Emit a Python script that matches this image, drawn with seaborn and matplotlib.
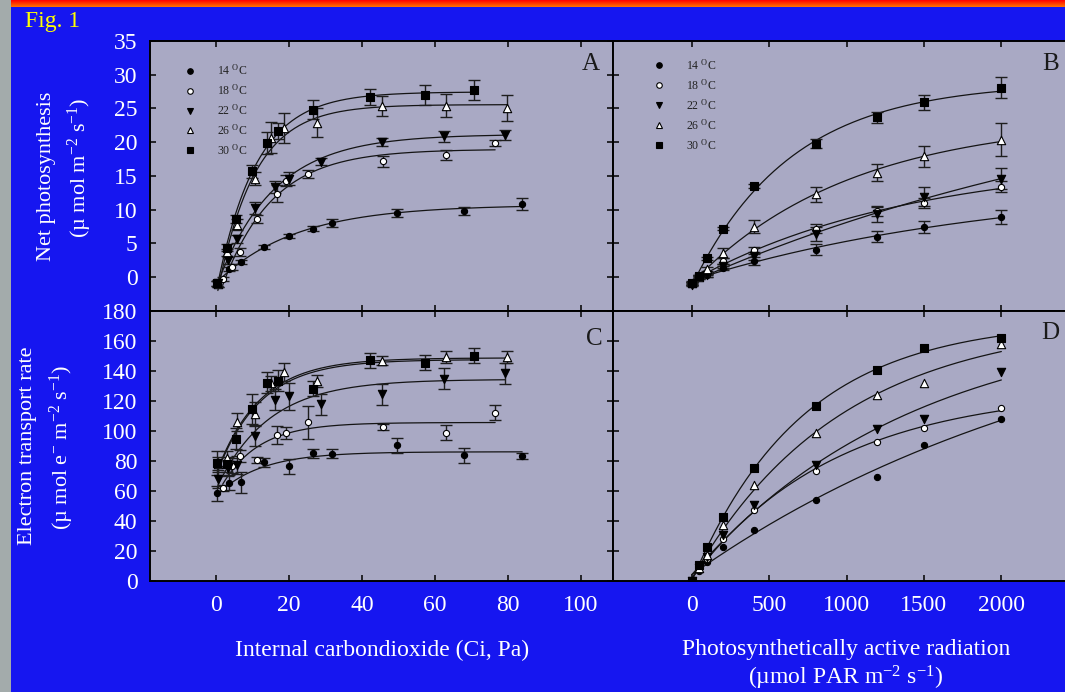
import numpy as np
import pandas as pd
import matplotlib
matplotlib.use("Agg")
import matplotlib.pyplot as plt
import seaborn as sns
from matplotlib.lines import Line2D
from matplotlib.patches import Rectangle

# ---------------- data ----------------
TEMP_LABELS = [r"14 $^{\mathrm{O}}$C", r"18 $^{\mathrm{O}}$C", r"22 $^{\mathrm{O}}$C",
               r"26 $^{\mathrm{O}}$C", r"30 $^{\mathrm{O}}$C"]

# Internal CO2 (Ci, Pa) per temperature (shared by panels A and C)
CI_14 = [0.4, 3.6, 6.8, 13.2, 19.9, 26.7, 31.7, 49.5, 68.0, 83.9]
CI_18 = [1.8, 4.3, 6.6, 11.1, 16.6, 19.2, 25.3, 45.8, 63.0, 76.5]
CI_22 = [0.5, 3.2, 5.8, 10.7, 16.1, 20.1, 28.8, 45.6, 62.4, 79.3]
CI_26 = [0.5, 3.1, 5.8, 10.7, 15.0, 18.7, 27.6, 45.4, 63.0, 79.8]
CI_30 = [0.3, 2.9, 5.4, 9.9, 13.9, 17.1, 26.5, 42.2, 57.3, 70.8]

# Panel A: net photosynthesis vs Ci
A_14 = [-0.9, 1.2, 2.3, 4.5, 6.1, 7.2, 8.1, 9.5, 9.8, 10.9]
A_18 = [-0.3, 1.5, 3.8, 8.6, 12.4, 14.3, 15.3, 17.2, 18.1, 19.9]
A_22 = [-0.9, 2.5, 5.7, 10.2, 13.4, 14.6, 17.1, 20.1, 20.9, 21.1]
A_26 = [-1.0, 3.7, 7.8, 14.6, 20.7, 22.1, 22.9, 25.4, 25.4, 25.1]
A_30 = [-0.9, 4.4, 8.6, 15.7, 19.9, 21.7, 24.8, 26.7, 27.0, 27.7]
A_ERR_14 = [0.4, 0.3, 0.3, 0.3, 0.3, 0.4, 0.6, 0.6, 0.6, 0.9]
A_ERR_18 = [0.3, 0.4, 0.6, 0.6, 1.2, 0.8, 0.6, 0.8, 0.8, 0.5]
A_ERR_22 = [0.5, 0.5, 0.6, 0.9, 0.9, 1.0, 0.5, 0.6, 0.8, 0.7]
A_ERR_26 = [0.5, 0.5, 0.8, 1.0, 2.3, 2.2, 2.1, 1.5, 1.7, 1.9]
A_ERR_30 = [0.4, 0.5, 0.6, 1.0, 1.6, 1.2, 1.4, 1.2, 1.5, 1.5]

# Panel C: electron transport rate vs Ci
C_14 = [58.4, 65.6, 66.0, 79.1, 76.4, 85.3, 84.7, 90.4, 84.0, 83.1]
C_18 = [62.2, 76.9, 83.3, 80.7, 97.1, 98.9, 106.0, 102.7, 98.9, 112.2]
C_22 = [68.0, 75.1, 77.3, 96.9, 120.7, 123.3, 117.8, 124.4, 134.7, 138.4]
C_26 = [78.0, 81.8, 106.2, 111.3, 131.8, 139.1, 133.3, 146.9, 149.5, 149.5]
C_30 = [78.9, 78.0, 94.7, 114.9, 132.2, 133.6, 128.2, 147.1, 145.5, 150.2]
C_ERR_14 = [5, 5, 7, 3, 5, 3, 3, 5, 5, 2]
C_ERR_18 = [2, 5, 4, 2, 6, 4, 11, 2, 5, 5]
C_ERR_22 = [6, 5, 6, 7, 7, 9, 7, 7, 7, 7]
C_ERR_26 = [5, 5, 6, 8, 5, 6, 4, 3, 4, 4]
C_ERR_30 = [8, 5, 7, 10, 7, 7, 5, 5, 5, 5]

# PAR levels (umol m-2 s-1) shared by panels B and D
PAR = [0, 50, 100, 200, 400, 800, 1200, 1500, 2000]

# Panel B: net photosynthesis vs PAR
B_14 = [-0.9, 0.0, 0.3, 1.4, 2.4, 4.1, 6.0, 7.4, 8.9]
B_18 = [-0.8, 0.1, 0.5, 2.4, 4.0, 7.2, 9.8, 11.0, 13.4]
B_22 = [-1.1, 0.0, 0.3, 1.7, 3.2, 6.4, 9.3, 11.9, 14.6]
B_26 = [-0.9, 0.1, 1.2, 3.6, 7.5, 12.3, 15.5, 17.9, 20.4]
B_30 = [-0.9, 0.2, 2.8, 7.2, 13.5, 19.8, 23.7, 25.9, 28.1]
B_ERR_14 = [0.2, 0.2, 0.2, 0.3, 0.6, 0.8, 0.8, 0.9, 1.0]
B_ERR_18 = [0.2, 0.2, 0.2, 0.4, 0.5, 0.7, 0.7, 0.8, 0.8]
B_ERR_22 = [0.2, 0.2, 0.2, 0.3, 0.6, 1.1, 1.1, 1.4, 1.6]
B_ERR_26 = [0.2, 0.2, 0.3, 0.8, 1.0, 1.1, 1.3, 1.6, 2.4]
B_ERR_30 = [0.2, 0.2, 0.2, 0.2, 0.3, 0.7, 0.8, 1.1, 1.6]

# Panel D: electron transport rate vs PAR
D_14 = [0, 7.0, 12.5, 22.4, 34.0, 54.0, 69.6, 90.7, 107.8]
D_18 = [0, 7.8, 15.0, 28.0, 47.3, 73.6, 92.9, 102.2, 115.1]
D_22 = [0, 8.5, 16.2, 30.7, 50.7, 77.3, 101.3, 108.0, 139.6]
D_26 = [0, 8.9, 17.3, 37.3, 64.0, 98.4, 124.0, 132.2, 157.8]
D_30 = [0, 10.7, 22.4, 42.4, 75.5, 116.7, 140.7, 155.1, 162.2]

CI_TICKS = [0, 20, 40, 60, 80, 100]
PAR_TICKS = [0, 500, 1000, 1500, 2000]
PN_TICKS = [0, 5, 10, 15, 20, 25, 30, 35]
ETR_TICKS = [0, 20, 40, 60, 80, 100, 120, 140, 160, 180]

# ---------------- style ----------------
BLUE = "#1616f0"
PANEL = "#a9a9c4"
MARKERS = ["o", "o", "v", "^", "s"]
FACES = ["black", "white", "black", "white", "black"]
SIZES = [20, 20, 36, 36, 32]

sns.set_theme(style="white")
plt.rcParams["font.family"] = ["Liberation Serif", "DejaVu Serif"]
plt.rcParams["mathtext.fontset"] = "custom"
plt.rcParams["mathtext.rm"] = "Liberation Serif"
plt.rcParams["mathtext.it"] = "Liberation Serif:italic"
plt.rcParams["mathtext.bf"] = "Liberation Serif:bold"

W, H = 1065, 692
fig = plt.figure(figsize=(W / 100, H / 100), dpi=100, facecolor=BLUE)


def rect(x0, y0, x1, y1):
    return [x0 / W, 1 - y1 / H, (x1 - x0) / W, (y1 - y0) / H]


# background decorations
fig.patches.append(Rectangle((0, 0), 11 / W, 1, transform=fig.transFigure,
                             facecolor="#a3abab", edgecolor="none", zorder=0))
bar_ax = fig.add_axes(rect(11, 0, W, 7))
grad = np.linspace(0, 1, 20)[:, None, None] * np.array([0, 0.45, 0])[None, None, :] + np.array([1, 0, 0])[None, None, :]
bar_ax.imshow(np.repeat(grad, 10, axis=1), aspect="auto", extent=(0, 1, 0, 1))
bar_ax.axis("off")

axA = fig.add_axes(rect(150, 41, 613, 311))
axB = fig.add_axes(rect(613, 41, W, 311))
axC = fig.add_axes(rect(150, 311, 613, 581))
axD = fig.add_axes(rect(613, 311, W, 581))


def fit_curve(x, y, n=200):
    x = np.asarray(x, float)
    y = np.asarray(y, float)
    xm = x.max()
    best = None
    for k in np.logspace(-2, 1.7, 400):
        e = np.exp(-k * x / xm)
        M = np.column_stack([np.ones_like(x), e])
        coef, *_ = np.linalg.lstsq(M, y, rcond=None)
        r = ((M @ coef - y) ** 2).sum()
        if best is None or r < best[0]:
            best = (r, k, coef)
    _, k, coef = best
    xs = np.linspace(x.min(), xm, n)
    return xs, coef[0] + coef[1] * np.exp(-k * xs / xm)


def draw(ax, xs_list, ys_list, es_list):
    for i in range(5):
        x = np.asarray(xs_list[i], float)
        y = np.asarray(ys_list[i], float)
        cx, cy = fit_curve(x, y)
        df = pd.DataFrame({"x": cx, "y": cy})
        sns.lineplot(data=df, x="x", y="y", ax=ax, color="#141414", lw=0.9,
                     sort=False, estimator=None, zorder=2)
        if es_list is not None:
            ax.errorbar(x, y, yerr=es_list[i], fmt="none", ecolor="#1e1e1e",
                        elinewidth=1.0, capsize=4, capthick=1.0, zorder=3)
        sns.scatterplot(x=x, y=y, ax=ax, marker=MARKERS[i], color=FACES[i],
                        edgecolor="black", linewidth=0.8, s=SIZES[i], zorder=4,
                        legend=False)


draw(axA, [CI_14, CI_18, CI_22, CI_26, CI_30], [A_14, A_18, A_22, A_26, A_30],
     [A_ERR_14, A_ERR_18, A_ERR_22, A_ERR_26, A_ERR_30])
draw(axC, [CI_14, CI_18, CI_22, CI_26, CI_30], [C_14, C_18, C_22, C_26, C_30],
     [C_ERR_14, C_ERR_18, C_ERR_22, C_ERR_26, C_ERR_30])
draw(axB, [PAR] * 5, [B_14, B_18, B_22, B_26, B_30],
     [B_ERR_14, B_ERR_18, B_ERR_22, B_ERR_26, B_ERR_30])
draw(axD, [PAR] * 5, [D_14, D_18, D_22, D_26, D_30], None)

for ax in (axA, axC):
    ax.set_xlim(-18.1, 108.8)
    ax.set_xticks(CI_TICKS)
for ax in (axB, axD):
    ax.set_xlim(-508, 2411)
    ax.set_xticks(PAR_TICKS)
for ax in (axA, axB):
    ax.set_ylim(-5, 35)
    ax.set_yticks(PN_TICKS)
for ax in (axC, axD):
    ax.set_ylim(0, 180)
    ax.set_yticks(ETR_TICKS)

for ax in (axA, axB, axC, axD):
    ax.set_facecolor(PANEL)
    ax.set_xlabel("")
    ax.set_ylabel("")
    for s in ax.spines.values():
        s.set_color("black")
        s.set_linewidth(1.4)
    ax.tick_params(axis="both", which="both", direction="in", length=4.5, width=1.1,
                   color="black", labelcolor="white", labelsize=17,
                   top=True, bottom=True, left=True, right=True)
    ax.tick_params(axis="y", pad=9)
    ax.tick_params(axis="x", pad=10)

for ax in (axB, axD):
    ax.spines["right"].set_visible(False)
    ax.tick_params(right=False, labelleft=False)
for ax in (axA, axB):
    ax.tick_params(labelbottom=False)

# panel letters
for ax, letter, px, py in ((axA, "A", 0.952, 0.915), (axB, "B", 0.969, 0.915),
                           (axC, "C", 0.960, 0.897), (axD, "D", 0.967, 0.92)):
    ax.text(px, py, letter, transform=ax.transAxes, fontsize=18, color="#1a1a1a",
            ha="center", va="center")

# legends
handles = [Line2D([], [], marker=MARKERS[i], ls="none", mfc=FACES[i], mec="black",
                  ms=4.5 if MARKERS[i] != "o" else 4, mew=0.8) for i in range(5)]
axA.legend(handles, TEMP_LABELS, loc="upper left", bbox_to_anchor=(0.05, 0.935),
           frameon=False, fontsize=8.5, handletextpad=1.3, labelspacing=0.45,
           borderaxespad=0, labelcolor="#222222")
axB.legend(handles, TEMP_LABELS, loc="upper left", bbox_to_anchor=(0.065, 0.955),
           frameon=False, fontsize=8.5, handletextpad=1.3, labelspacing=0.45,
           borderaxespad=0, labelcolor="#222222")

# texts
MU = "\u00b5"
fig.text(25 / W, 1 - 22 / H, "Fig. 1", color="#ffff00", fontsize=17, ha="left", va="center")
fig.text(47 / W, 1 - 176 / H, "Net photosynthesis", color="white", fontsize=16,
         rotation=90, ha="center", va="center")
fig.text(80 / W, 1 - 168 / H, "(" + MU + r" mol m$^{-2}$ s$^{-1}$)", color="white", fontsize=16,
         rotation=90, ha="center", va="center")
fig.text(28 / W, 1 - 446 / H, "Electron transport rate", color="white", fontsize=16,
         rotation=90, ha="center", va="center")
fig.text(62 / W, 1 - 447 / H, "(" + MU + r" mol e$^{-}$ m$^{-2}$ s$^{-1}$)", color="white",
         fontsize=16, rotation=90, ha="center", va="center")
fig.text(382 / W, 1 - 650 / H, "Internal carbondioxide (Ci, Pa)", color="white",
         fontsize=17, ha="center", va="center")
fig.text(846 / W, 1 - 650 / H, "Photosynthetically active radiation", color="white",
         fontsize=17, ha="center", va="center")
fig.text(846 / W, 1 - 678 / H, "(" + MU + r"mol PAR m$^{-2}$ s$^{-1}$)", color="white",
         fontsize=17, ha="center", va="center")

fig.savefig("out.png", dpi=100, facecolor=BLUE)
